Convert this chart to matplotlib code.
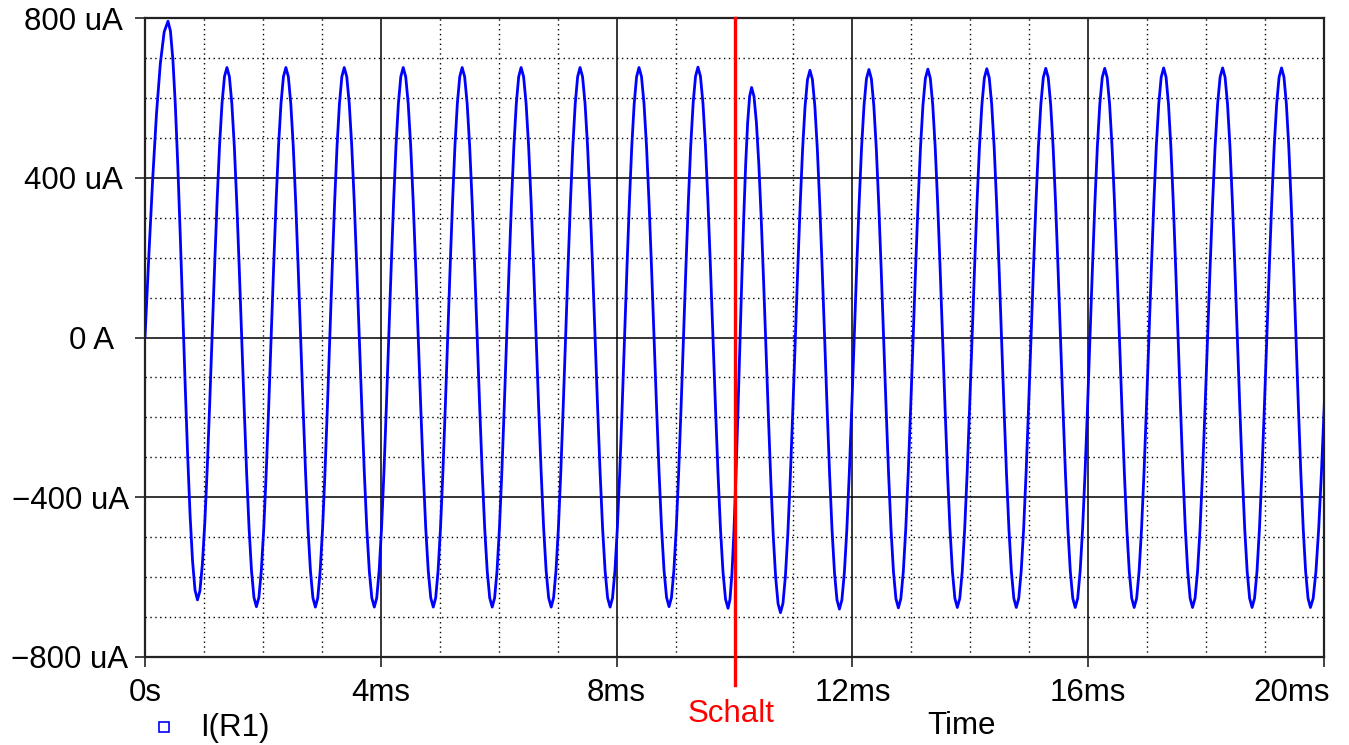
"""PSpice-style transient plot: current through R1 with a switching event."""

import matplotlib

matplotlib.use("Agg")  # headless
import matplotlib.pyplot as plt  # noqa: E402
import numpy as np  # noqa: E402
from matplotlib.transforms import ScaledTranslation  # noqa: E402

W, H = 1349, 745

# extrema of I(R1) (time in ms, current in uA)
peak_t_ms = [0.39, 1.39, 2.39, 3.38, 4.38, 5.38, 6.38, 7.38, 8.38, 9.38,
             10.29, 11.28, 12.28, 13.28, 14.28, 15.28, 16.28, 17.28, 18.28, 19.28, 20.33]
peak_uA = [792, 676, 676, 676, 676, 676, 676, 676, 676, 677,
           626, 669, 671, 672, 673, 674, 674, 675, 675, 675, 675]
trough_t_ms = [0.89, 1.89, 2.89, 3.89, 4.89, 5.89, 6.89, 7.89, 8.89, 9.89,
               10.78, 11.78, 12.78, 13.78, 14.78, 15.78, 16.78, 17.77, 18.78, 19.77]
trough_uA = [-657, -674, -675, -675, -675, -675, -675, -675, -674, -678,
             -689, -680, -677, -676, -676, -676, -676, -676, -676, -676]
start_uA = 0.0

# normalised shape of one half-wave between two extrema, as seen on the trace
half_wave_shape = [0.0, 0.017, 0.067, 0.146, 0.25, 0.371, 0.5,
                   0.629, 0.75, 0.854, 0.933, 0.983, 1.0]

switch_ms = 10.0
switch_label = "Schalt"

x_ticks = [0, 4, 8, 12, 16, 20]
x_labels = ["0s", "4ms", "8ms", "12ms", "16ms", "20ms"]
y_ticks = [-800, -400, 0, 400, 800]
y_labels = ["\u2212800 uA", "\u2212400 uA", "0 A", "400 uA", "800 uA"]

FS = 22.5
Y_LABEL_SHIFT_PX = [5, 6, -9, 0, 0]  # PSpice does not right-align them exactly


def build_trace():
    nodes = sorted(zip(peak_t_ms + trough_t_ms, peak_uA + trough_uA))
    shape = np.array(half_wave_shape)
    frac = np.linspace(0.0, 1.0, len(shape))

    # start of the transient: trace leaves 0 A steeply, so use the upper half
    half = shape[len(shape) // 2:]
    half = (half - half[0]) / (half[-1] - half[0])
    t0, v0 = 0.0, start_uA
    t1, v1 = nodes[0]
    ts = [t0 + (t1 - t0) * np.linspace(0, 1, len(half))]
    vs = [v0 + (v1 - v0) * half]
    for (a_t, a_v), (b_t, b_v) in zip(nodes[:-1], nodes[1:]):
        ts.append((a_t + (b_t - a_t) * frac)[1:])
        vs.append((a_v + (b_v - a_v) * shape)[1:])
    return np.concatenate(ts), np.concatenate(vs)


def px(x, y):
    return x / W, 1 - y / H


fig = plt.figure(figsize=(W / 100, H / 100), dpi=100)
plt.rcParams["font.family"] = ["Liberation Sans", "DejaVu Sans"]
ax = fig.add_axes([145 / W, 1 - 657 / H, (1324 - 145) / W, (657 - 18) / H])

t, i = build_trace()
ax.plot(t, i, color="#0000ff", lw=2.0, zorder=3)

ax.set_xlim(0, 20)
ax.set_ylim(-800, 800)
ax.set_xticks(x_ticks)
ax.set_xticklabels(x_labels)
ax.set_yticks(y_ticks)
ax.set_yticklabels(y_labels)
ax.set_xticks(np.arange(0, 21, 1), minor=True)
ax.set_yticks(np.arange(-800, 801, 100), minor=True)

ax.grid(which="major", color="black", lw=1.1, zorder=1)
ax.grid(which="minor", color="black", lw=1.0, ls=(0, (1, 2.5)), zorder=1)
ax.tick_params(which="major", length=7, width=1.2, color="#222222",
               labelsize=FS)
ax.tick_params(axis="y", which="major", pad=9)
ax.tick_params(axis="x", which="major", pad=8)
ax.tick_params(which="minor", length=0)
for s in ax.spines.values():
    s.set_linewidth(1.6)
    s.set_color("#222222")
ax.set_axisbelow(True)

# the last time label is pulled in so it stays inside the picture
last = ax.get_xticklabels()[-1]
last.set_ha("right")
last.set_transform(last.get_transform() + ScaledTranslation(0.06, 0, fig.dpi_scale_trans))
for lbl, dx in zip(ax.get_yticklabels(), Y_LABEL_SHIFT_PX):
    lbl.set_transform(lbl.get_transform() + ScaledTranslation(dx / 100, 0, fig.dpi_scale_trans))

# switching instant
ax.plot([switch_ms, switch_ms], [1.0, -0.044], color="#ff0000", lw=2.4,
        transform=ax.get_xaxis_transform(), clip_on=False, zorder=4)
fig.text(*px(731, 714), switch_label, color="#ff0000", fontsize=FS,
         ha="center", va="center")

# legend entry and x axis title
fig.text(*px(961, 726), "Time", fontsize=FS, ha="center", va="center")
fig.lines.append(plt.Line2D([163.5 / W], [1 - 727 / H], marker="s", ms=7.5,
                            mfc="none", mec="#0000ff", mew=1.2, ls="none",
                            transform=fig.transFigure))
fig.text(*px(200, 728), "I(R1)", fontsize=FS, ha="left", va="center")

fig.savefig("out.png", dpi=100)
